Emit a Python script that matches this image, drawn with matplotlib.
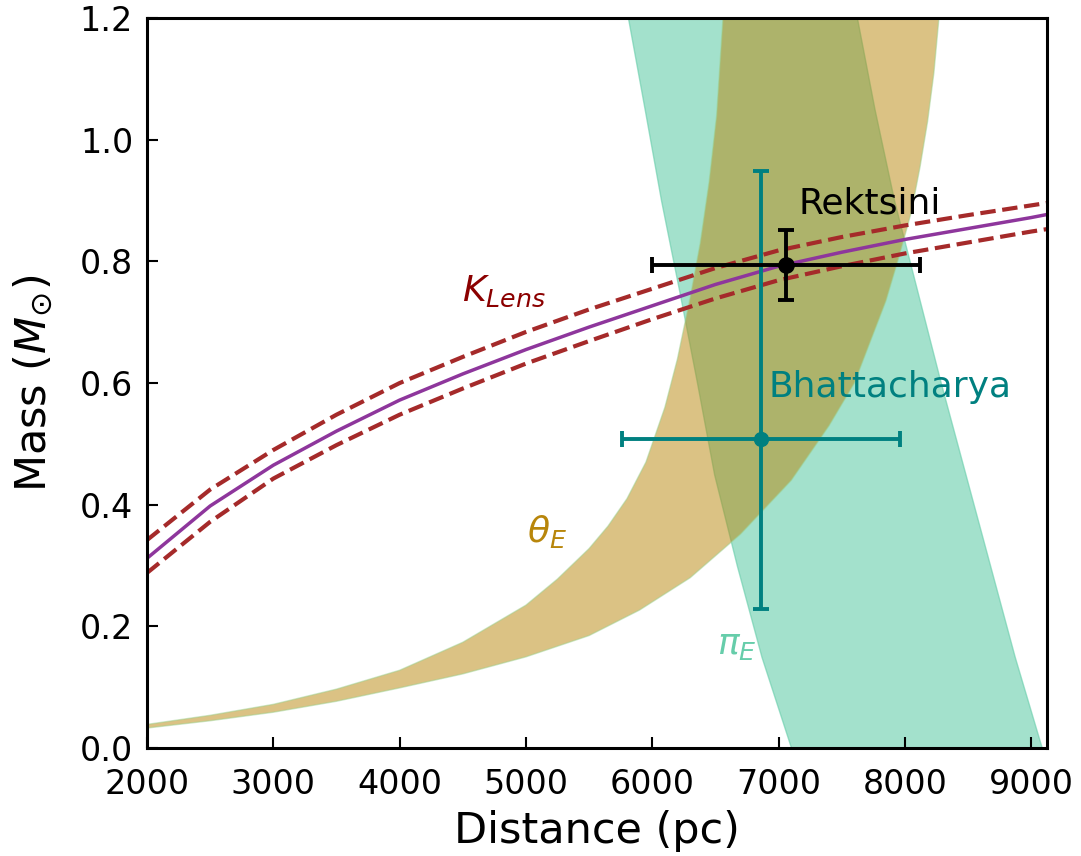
import numpy as np
import matplotlib
matplotlib.use("Agg")
import matplotlib.pyplot as plt

# K_Lens mass-distance relation (solid) and its 1-sigma bounds (dashed)
klens_D = [2000, 2500, 3000, 3500, 4000, 4500, 5000, 5500, 6000, 6500,
           7000, 7500, 8000, 8500, 9000, 9125]
klens_M = [0.312, 0.398, 0.465, 0.521, 0.572, 0.615, 0.655, 0.692, 0.727, 0.762,
           0.792, 0.815, 0.836, 0.854, 0.872, 0.877]
klens_hi = [0.342, 0.425, 0.490, 0.548, 0.600, 0.643, 0.684, 0.721, 0.755, 0.789,
            0.818, 0.840, 0.859, 0.876, 0.892, 0.896]
klens_lo = [0.288, 0.372, 0.443, 0.498, 0.548, 0.591, 0.632, 0.669, 0.705, 0.739,
            0.769, 0.792, 0.813, 0.831, 0.849, 0.853]

# theta_E band edges
thE_up_D = [2000, 2500, 3000, 3500, 4000, 4500, 5000, 5250, 5500, 5650, 5800,
            5950, 6100, 6200, 6300, 6380, 6450, 6510, 6560]
thE_up_M = [0.039, 0.054, 0.072, 0.097, 0.128, 0.174, 0.235, 0.278, 0.328, 0.365, 0.41,
            0.47, 0.56, 0.64, 0.74, 0.83, 0.93, 1.04, 1.2]
thE_lo_D = [2000, 2500, 3000, 3500, 4000, 4500, 5000, 5500, 5900, 6300, 6700,
            7100, 7400, 7600, 7850, 7950, 8050, 8120, 8180, 8230, 8270]
thE_lo_M = [0.033, 0.045, 0.059, 0.077, 0.099, 0.122, 0.150, 0.185, 0.227, 0.28, 0.352,
            0.44, 0.53, 0.60, 0.735, 0.805, 0.88, 0.955, 1.03, 1.11, 1.2]

# pi_E band, distance of edges as a function of mass
piE_M = [0.0, 0.15, 0.3, 0.45, 0.6, 0.75, 0.9, 1.05, 1.2]
piE_left = [7100, 6865, 6670, 6490, 6355, 6215, 6070, 5940, 5808]
piE_right = [9085, 8870, 8675, 8480, 8285, 8100, 7915, 7760, 7621]

# literature estimates
rek_D, rek_M, rek_dD, rek_dM = 7059, 0.794, 1060, 0.057
bha_D, bha_M, bha_dD = 6862, 0.508, 1100
bha_dM = [[0.28], [0.441]]

fig = plt.figure(figsize=(10.81, 8.56), dpi=100)
ax = fig.add_axes([0.136, 0.126, 0.8325, 0.853])

ax.fill_betweenx(piE_M, piE_left, piE_right, color='mediumaquamarine', alpha=0.6,
                 linewidth=1)
ax.fill(np.r_[thE_up_D, thE_lo_D[::-1]], np.r_[thE_up_M, thE_lo_M[::-1]],
        facecolor='darkgoldenrod', alpha=0.5, edgecolor='#9ccf8c', linewidth=1)

ax.plot(klens_D, klens_hi, color='brown', linestyle='--', linewidth=3)
ax.plot(klens_D, klens_lo, color='brown', linestyle='--', linewidth=3)
ax.plot(klens_D, klens_M, color='#8e369c', linewidth=2.5)

ax.errorbar(bha_D, bha_M, xerr=bha_dD, yerr=bha_dM, fmt='o', color='teal',
            markersize=10, elinewidth=2.8, capsize=6, capthick=2.8)
ax.errorbar(rek_D, rek_M, xerr=rek_dD, yerr=rek_dM, fmt='o', color='black',
            markersize=11, elinewidth=2.8, capsize=6, capthick=2.8)

ax.text(7155, 0.878, 'Rektsini', fontsize=26, color='black')
ax.text(6917, 0.577, 'Bhattacharya', fontsize=26, color='teal')
ax.text(4494, 0.735, r'$K_{Lens}$', fontsize=26, color='darkred')
ax.text(5009, 0.338, r'$\theta_E$', fontsize=26, color='darkgoldenrod')
ax.text(6513, 0.155, r'$\pi_E$', fontsize=26, color='mediumaquamarine')

ax.set_xlim(2000, 9125)
ax.set_ylim(0, 1.2)
ax.set_xticks(range(2000, 9001, 1000))
ax.set_yticks(np.arange(0, 1.21, 0.2))
ax.tick_params(direction='in', length=8, width=1.5, labelsize=24)
ax.tick_params(axis='x', pad=14)
ax.tick_params(axis='y', pad=10)
for s in ax.spines.values():
    s.set_linewidth(2.2)
ax.set_xlabel('Distance (pc)', fontsize=31, labelpad=7)
ax.set_ylabel(r'Mass ($M_{\odot}$)', fontsize=31, labelpad=18)

fig.savefig('out.png', dpi=100)
